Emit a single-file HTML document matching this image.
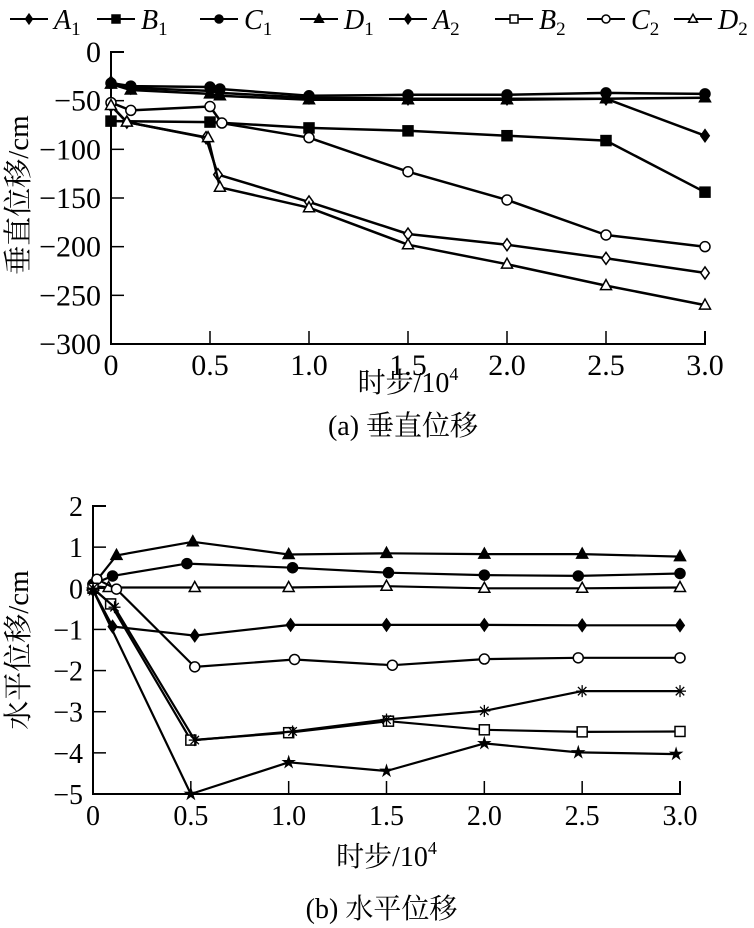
<!DOCTYPE html>
<html><head><meta charset="utf-8"><style>
html,body{margin:0;padding:0;background:#fff;}
svg{display:block;}
text{font-family:"Liberation Serif","Noto Serif CJK SC","Noto Sans CJK SC",serif;fill:#000;}
</style></head><body>
<svg id="fig" width="754" height="928" viewBox="0 0 754 928" xmlns="http://www.w3.org/2000/svg">
<g id="legend"></g>
<g id="top"></g>
<g id="bot"></g>
</svg>
<script>
// ---- top chart data ----
const topXTicks = [0, 0.5, 1.0, 1.5, 2.0, 2.5, 3.0];
const topXTickLabels = ["0","0.5","1.0","1.5","2.0","2.5","3.0"];
const topYTicks = [0,-50,-100,-150,-200,-250,-300];
const topYTickLabels = ["0","\u221250","\u2212100","\u2212150","\u2212200","\u2212250","\u2212300"];
const topA1x = [0,0.1,0.5,0.55,1.0,1.5,2.0,2.5,3.0];
const topA1y = [-31,-37,-40,-42,-47,-48,-48,-48,-86];
const topB1x = [0,0.5,1.0,1.5,2.0,2.5,3.0];
const topB1y = [-71,-72,-78,-81,-86,-91,-144];
const topC1x = [0,0.1,0.5,0.55,1.0,1.5,2.0,2.5,3.0];
const topC1y = [-32,-35,-36,-38,-45,-44,-44,-42,-43];
const topD1x = [0,0.1,0.5,0.55,1.0,1.5,2.0,2.5,3.0];
const topD1y = [-33,-39,-43,-45,-49,-49,-49,-48,-47];
const topA2x = [0,0.08,0.48,0.54,1.0,1.5,2.0,2.5,3.0];
const topA2y = [-55,-72,-88,-126,-154,-187,-198,-212,-227];
const topC2x = [0,0.1,0.5,0.56,1.0,1.5,2.0,2.5,3.0];
const topC2y = [-52,-60,-56,-73,-88,-123,-152,-188,-200];
const topD2x = [0,0.08,0.49,0.55,1.0,1.5,2.0,2.5,3.0];
const topD2y = [-55,-72,-88,-139,-160,-198,-218,-240,-260];

// ---- bottom chart data ----
const botXTicks = [0, 0.5, 1.0, 1.5, 2.0, 2.5, 3.0];
const botXTickLabels = ["0","0.5","1.0","1.5","2.0","2.5","3.0"];
const botYTicks = [2,1,0,-1,-2,-3,-4,-5];
const botYTickLabels = ["2","1","0","\u22121","\u22122","\u22123","\u22124","\u22125"];
const botD1x = [0,0.12,0.51,1.0,1.5,2.0,2.5,3.0];
const botD1y = [0.08,0.8,1.13,0.82,0.85,0.83,0.83,0.77];
const botC1x = [0,0.1,0.48,1.02,1.51,2.0,2.48,3.0];
const botC1y = [0.1,0.3,0.6,0.5,0.38,0.32,0.3,0.36];
const botD2x = [0,0.08,0.52,1.0,1.5,2.0,2.5,3.0];
const botD2y = [0.05,0.02,0.02,0.02,0.05,0,0,0.02];
const botC2x = [0.02,0.12,0.52,1.03,1.53,2.0,2.48,3.0];
const botC2y = [0.22,-0.02,-1.91,-1.73,-1.87,-1.72,-1.69,-1.69];
const botA2x = [0,0.1,0.52,1.01,1.5,2.0,2.5,3.0];
const botA2y = [-0.04,-0.93,-1.15,-0.89,-0.89,-0.89,-0.9,-0.9];
const botB2x = [0,0.09,0.5,1.0,1.51,2.0,2.5,3.0];
const botB2y = [0,-0.38,-3.69,-3.51,-3.23,-3.44,-3.49,-3.48];
const botEx = [0,0.11,0.52,1.02,1.5,2.0,2.5,3.0];
const botEy = [0,-0.46,-3.69,-3.48,-3.19,-2.98,-2.5,-2.5];
const botFx = [0,0.5,1.0,1.5,2.0,2.48,2.98];
const botFy = [-0.04,-5,-4.23,-4.44,-3.77,-3.99,-4.03];

const NS = "http://www.w3.org/2000/svg";
function mk(parent, tag, attrs){const e=document.createElementNS(NS,tag);for(const k in attrs)e.setAttribute(k,attrs[k]);parent.appendChild(e);return e;}

function marker(g, type, x, y, s){
  let e;
  const fill = (type==="fdiamond"||type==="fsquare"||type==="fcircle"||type==="ftri"||type==="star") ? "#000" : "#fff";
  if(type.endsWith("diamond")) e=mk(g,"polygon",{points:`${x},${y-s*1.2} ${x+s*0.85},${y} ${x},${y+s*1.2} ${x-s*0.85},${y}`,fill:fill,stroke:"#000","stroke-width":1.5});
  else if(type.endsWith("square")) e=mk(g,"rect",{x:x-s,y:y-s,width:2*s,height:2*s,fill:fill,stroke:"#000","stroke-width":1.5});
  else if(type.endsWith("circle")) e=mk(g,"circle",{cx:x,cy:y,r:s,fill:fill,stroke:"#000","stroke-width":1.5});
  else if(type.endsWith("tri")) e=mk(g,"polygon",{points:`${x},${y-s*1.2} ${x+s*1.1},${y+s*0.8} ${x-s*1.1},${y+s*0.8}`,fill:fill,stroke:"#000","stroke-width":1.5});
  else if(type==="star"){let p=[];for(let i=0;i<10;i++){const r=i%2?s*0.45:s*1.2;const a=-Math.PI/2+i*Math.PI/5;p.push((x+r*Math.cos(a)).toFixed(1)+","+(y+r*Math.sin(a)).toFixed(1));}e=mk(g,"polygon",{points:p.join(" "),fill:"#000",stroke:"#000","stroke-width":1});}
  else if(type==="asterisk"){e=mk(g,"g",{});for(let i=0;i<4;i++){const a=i*Math.PI/4;mk(e,"line",{x1:x-s*1.2*Math.cos(a),y1:y-s*1.2*Math.sin(a),x2:x+s*1.2*Math.cos(a),y2:y+s*1.2*Math.sin(a),stroke:"#000","stroke-width":1.3});}}
  
  
  return e;
}

function chart(g, o){
  const sx=v=>o.x0+(v-o.xmin)/(o.xmax-o.xmin)*(o.x1-o.x0);
  const sy=v=>o.y0+(o.ymax-v)/(o.ymax-o.ymin)*(o.y1-o.y0);
  const ax=mk(g,"path",{d:`M${o.x0+13},${o.y0} H${o.x0} V${o.y1} H${o.x1} V${o.y1-13}`,fill:"none",stroke:"#000","stroke-width":2});
  
  
  o.xt.forEach((v,i)=>{
    if(i>0&&i<o.xt.length-1){const t=mk(g,"line",{x1:sx(v),x2:sx(v),y1:o.y1,y2:o.y1-13,stroke:"#000","stroke-width":1.5});
      
      }
    const l=mk(g,"text",{x:sx(v),y:o.y1+31,"text-anchor":"middle","font-size":o.fs});l.textContent=o.xl[i];
    
    
  });
  o.yt.forEach((v,i)=>{
    if(i>0&&i<o.yt.length-1){const t=mk(g,"line",{x1:o.x0,x2:o.x0+13,y1:sy(v),y2:sy(v),stroke:"#000","stroke-width":1.5});
      
      }
    const l=mk(g,"text",{x:o.x0-10,y:sy(v)+10,"text-anchor":"end","font-size":o.fs});l.textContent=o.yl[i];
    
    
  });
  o.series.forEach(s=>{
    const sg=mk(g,"g",{});
    
    
    const pts=s.x.map((v,i)=>sx(v).toFixed(1)+","+sy(s.y[i]).toFixed(1)).join(" ");
    const pl=mk(sg,"polyline",{points:pts,fill:"none",stroke:"#000","stroke-width":o.lw,"stroke-linejoin":"round"});
    
    
    s.x.forEach((v,i)=>marker(sg,s.m,sx(v),sy(s.y[i]),5));
  });
  const xt=mk(g,"text",{x:(o.x0+o.x1)/2,y:o.xtitleY,"text-anchor":"middle","font-size":28});
  xt.innerHTML='时步/10<tspan dy="-12" font-size="18">4</tspan>';
  
  
  const yt=mk(g,"text",{x:0,y:0,"text-anchor":"middle","font-size":29,transform:`translate(${o.ytitleX},${o.ytitleY}) rotate(-90)`});
  yt.textContent=o.ytitle;
  
  
  const cap=mk(g,"text",{x:(o.x0+o.x1)/2-5,y:o.capY,"text-anchor":"middle","font-size":28});
  cap.textContent=o.cap;
  
  
}

chart(document.getElementById("top"),{x0:111,x1:705,y0:52,y1:344,xmin:0,xmax:3,ymin:-300,ymax:0,fs:30,
  xt:topXTicks,xl:topXTickLabels,yt:topYTicks,yl:topYTickLabels,lw:2.5,
  xtitleY:392,ytitleX:28,ytitleY:195,ytitle:"垂直位移/cm",capY:435,cap:"(a) 垂直位移",
  series:[
    {name:"A1",x:topA1x,y:topA1y,m:"fdiamond"},
    {name:"B1",x:topB1x,y:topB1y,m:"fsquare"},
    {name:"C1",x:topC1x,y:topC1y,m:"fcircle"},
    {name:"D1",x:topD1x,y:topD1y,m:"ftri"},
    {name:"A2",x:topA2x,y:topA2y,m:"odiamond"},
    {name:"C2",x:topC2x,y:topC2y,m:"ocircle"},
    {name:"D2",x:topD2x,y:topD2y,m:"otri"}
  ]});

chart(document.getElementById("bot"),{x0:93,x1:680,y0:506,y1:794,xmin:0,xmax:3,ymin:-5,ymax:2,fs:28,
  xt:botXTicks,xl:botXTickLabels,yt:botYTicks,yl:botYTickLabels,lw:2.2,
  xtitleY:866,ytitleX:28,ytitleY:650,ytitle:"水平位移/cm",capY:918,cap:"(b) 水平位移",
  series:[
    {name:"D1",x:botD1x,y:botD1y,m:"ftri"},
    {name:"C1",x:botC1x,y:botC1y,m:"fcircle"},
    {name:"D2",x:botD2x,y:botD2y,m:"otri"},
    {name:"C2",x:botC2x,y:botC2y,m:"ocircle"},
    {name:"A2",x:botA2x,y:botA2y,m:"fdiamond"},
    {name:"B2",x:botB2x,y:botB2y,m:"osquare"},
    {name:"E",x:botEx,y:botEy,m:"asterisk"},
    {name:"F",x:botFx,y:botFy,m:"star"}
  ]});

// legend
const legLetters=["A","B","C","D","A","B","C","D"];
const legSubs=["1","1","1","1","2","2","2","2"];
const legMarkers=["fdiamond","fsquare","fcircle","ftri","fdiamond","osquare","ocircle","otri"];
const legLineX=[10,97,200,300,389,495,587,674];
const lg=document.getElementById("legend");
legLetters.forEach((L,i)=>{
  const e=mk(lg,"g",{});
  
  
  const x=legLineX[i];
  mk(e,"line",{x1:x,x2:x+38,y1:19,y2:19,stroke:"#000","stroke-width":2});
  marker(e,legMarkers[i],x+19,19,4);
  const t=mk(e,"text",{x:x+44,y:29,"font-size":28});
  t.innerHTML=`<tspan font-style="italic">${L}</tspan><tspan font-size="19" dy="6">${legSubs[i]}</tspan>`;
});
</script>
</body></html>
